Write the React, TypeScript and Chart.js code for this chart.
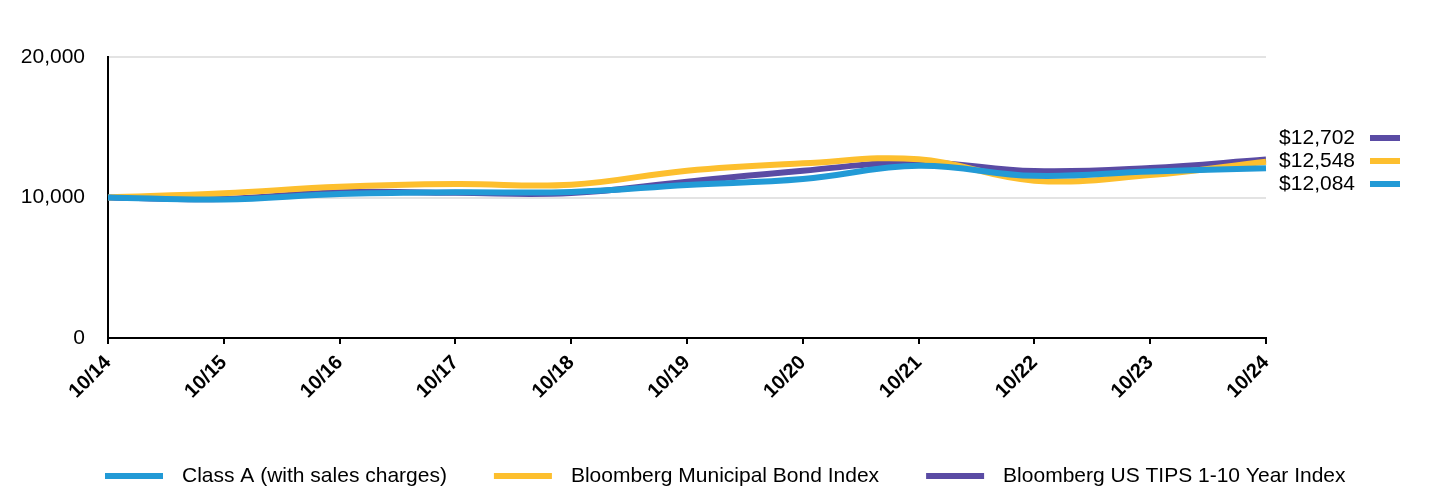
import React, { useEffect, useRef } from "react";
import { Chart, registerables } from "chart.js";

Chart.register(...registerables);

const periodLabels = ["10/14", "10/15", "10/16", "10/17", "10/18", "10/19", "10/20", "10/21", "10/22", "10/23", "10/24"];
const classAValues = [10000, 9860, 10250, 10370, 10390, 10890, 11320, 12260, 11540, 11850, 12084];
const muniValues = [10000, 10300, 10770, 10960, 10910, 11910, 12430, 12720, 11200, 11600, 12548];
const tipsValues = [10000, 9900, 10380, 10330, 10320, 11130, 11910, 12500, 11880, 12100, 12702];
const seriesNames = ["Class A (with sales charges)", "Bloomberg Municipal Bond Index", "Bloomberg US TIPS 1-10 Year Index"];
const seriesColors = ["#229ad6", "#fdbf2e", "#5a4ba4"];
const yTicks = [0, 10000, 20000];

const FONT = "Arial, 'Liberation Sans', sans-serif";

const fmtMoney = (v: number) => "$" + v.toLocaleString("en-US");

const sideLabelsPlugin = {
  id: "sideLabels",
  afterDraw(chart: any) {
    const ctx = chart.ctx;
    const area = chart.chartArea;
    const items = chart.data.datasets.map((ds: any) => ({
      value: ds.data[ds.data.length - 1] as number,
      color: ds.borderColor as string,
    }));
    items.sort((a: any, b: any) => b.value - a.value);
    ctx.save();
    ctx.font = `21px ${FONT}`;
    ctx.textBaseline = "middle";
    items.forEach((it: any, i: number) => {
      const y = area.top + 81 + i * 23;
      ctx.fillStyle = "#000";
      ctx.textAlign = "right";
      ctx.fillText(fmtMoney(it.value), area.right + 89, y);
      ctx.strokeStyle = it.color;
      ctx.lineWidth = 6;
      ctx.beginPath();
      ctx.moveTo(area.right + 104, y);
      ctx.lineTo(area.right + 134, y);
      ctx.stroke();
    });
    ctx.restore();
  },
};

const bottomLegendPlugin = {
  id: "bottomLegend",
  afterDraw(chart: any) {
    const ctx = chart.ctx;
    const area = chart.chartArea;
    ctx.save();
    ctx.font = `21px ${FONT}`;
    ctx.textBaseline = "middle";
    ctx.textAlign = "left";
    const y = 476;
    let x = area.left - 3;
    chart.data.datasets.forEach((ds: any) => {
      ctx.strokeStyle = ds.borderColor;
      ctx.lineWidth = 6;
      ctx.beginPath();
      ctx.moveTo(x, y);
      ctx.lineTo(x + 58, y);
      ctx.stroke();
      ctx.fillStyle = "#000";
      ctx.fillText(ds.label, x + 77, y);
      x += 77 + ctx.measureText(ds.label).width + 47;
    });
    ctx.restore();
  },
};

export default function App() {
  const canvasRef = useRef<HTMLCanvasElement | null>(null);

  useEffect(() => {
    if (!canvasRef.current) return;
    const values = [classAValues, muniValues, tipsValues];
    const chart = new Chart(canvasRef.current, {
      type: "line",
      data: {
        labels: periodLabels,
        datasets: values.map((vals, i) => ({
          label: seriesNames[i],
          data: vals,
          borderColor: seriesColors[i],
          backgroundColor: seriesColors[i],
          borderWidth: 6,
          pointRadius: 0,
          tension: 0.4,
          fill: false,
        })),
      },
      options: {
        responsive: false,
        animation: false,
        devicePixelRatio: 1,
        layout: { padding: { top: 57, right: 174, left: 0, bottom: 0 } },
        plugins: { legend: { display: false }, tooltip: { enabled: false } },
        scales: {
          x: {
            grid: { drawOnChartArea: false, drawTicks: true, tickLength: 6, color: "#000", lineWidth: 2 },
            border: { display: true, color: "#000", width: 2 },
            ticks: {
              autoSkip: false,
              maxRotation: 45,
              minRotation: 45,
              color: "#000",
              padding: 7,
              font: { family: FONT, size: 20, weight: "bold" },
            },
            afterFit: (s: any) => {
              s.height = 154;
            },
          },
          y: {
            min: 0,
            max: 20000,
            afterBuildTicks: (s: any) => {
              s.ticks = yTicks.map((v) => ({ value: v }));
            },
            grid: { color: "#e3e3e3", lineWidth: 2, drawTicks: false },
            border: { display: true, color: "#000", width: 2 },
            ticks: {
              color: "#000",
              padding: 23,
              font: { family: FONT, size: 21 },
              callback: (v: any) => Number(v).toLocaleString("en-US"),
            },
            afterFit: (s: any) => {
              s.width = 108;
            },
          },
        },
      },
      plugins: [sideLabelsPlugin, bottomLegendPlugin],
    });
    return () => chart.destroy();
  }, []);

  return (
    <div style={{ position: "absolute", left: 0, top: 0, width: 1440, height: 492, background: "#fff" }}>
      <canvas ref={canvasRef} width={1440} height={492} style={{ width: 1440, height: 492, display: "block" }} />
    </div>
  );
}
